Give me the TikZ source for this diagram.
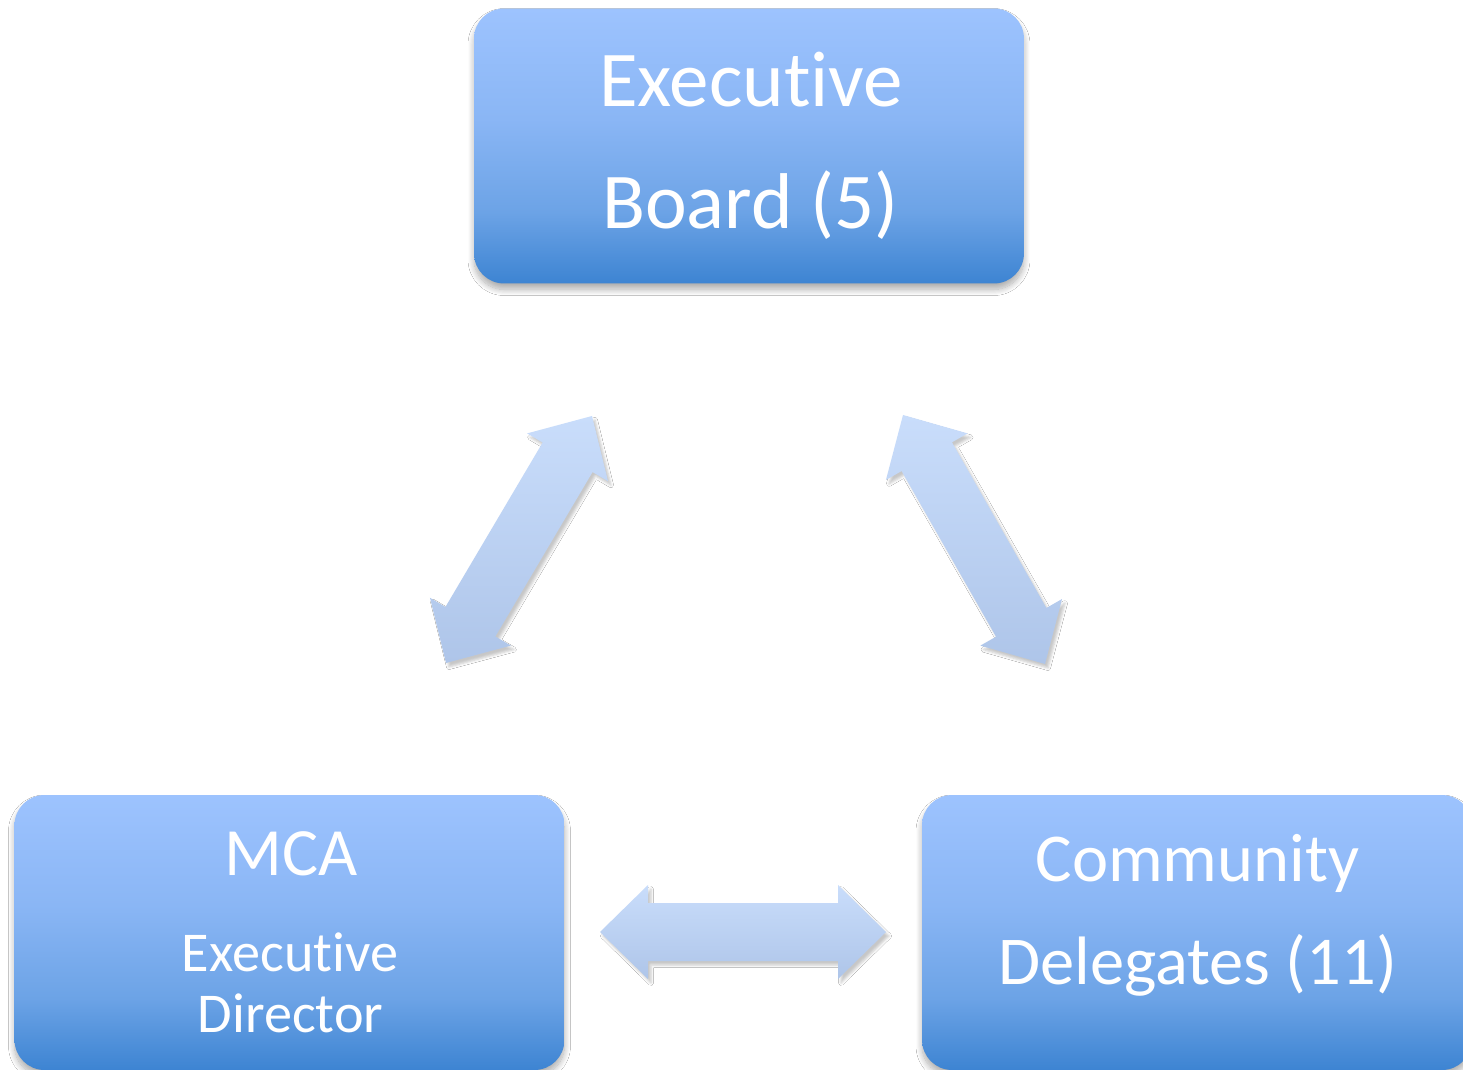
\documentclass[tikz,border=0pt]{standalone}
\usepackage{fontspec}
\setmainfont{Carlito}[Ligatures={NoCommon,NoRare,NoDiscretionary}]
\usetikzlibrary{calc,shadows.blur}
\definecolor{bxtop}{HTML}{9DC3FE}
\definecolor{bxmidb}{HTML}{8AB6F5}
\definecolor{bxmida}{HTML}{6CA3E6}
\definecolor{bxbot}{HTML}{3D84D2}
\definecolor{artop}{HTML}{C9DDFB}
\definecolor{arbot}{HTML}{AEC5E9}
\pgfdeclareverticalshading{boxgrad}{100bp}{color(0bp)=(bxbot); color(25bp)=(bxbot); color(38bp)=(bxmida); color(55bp)=(bxmidb); color(75bp)=(bxtop); color(100bp)=(bxtop)}
\tikzset{
  box/.style={rectangle, rounded corners=0.6cm, minimum width=11cm, minimum height=5.5cm,
    shading=boxgrad, draw=none,
    blur shadow={shadow xshift=0pt, shadow yshift=-0.12cm, shadow blur radius=0.12cm, shadow opacity=32, shadow blur steps=12}},
  arrowshape/.style={top color=artop, bottom color=arbot, draw=none,
    blur shadow={shadow xshift=0.06cm, shadow yshift=-0.08cm, shadow blur radius=0.05cm, shadow opacity=22}},
  txt/.style={text=white, anchor=base, inner sep=0pt},
  bigtxt/.style={txt, font=\fontsize{45}{54}\selectfont},
  midtxt/.style={txt, font=\fontsize{39}{47}\selectfont},
  mcatxt/.style={txt, font=\fontsize{38.5}{46}\selectfont},
  smalltxt/.style={txt, font=\fontsize{32}{38}\selectfont},
}
\newcommand\dblarrow[2]{%
  \coordinate (p1) at ($(#1)!0.96cm!(#2)$);
  \coordinate (p2) at ($(#2)!0.96cm!(#1)$);
  \path[arrowshape] (#1) -- ($(p1)!0.94cm!90:(#2)$) -- ($(p1)!0.58cm!90:(#2)$)
    -- ($(p2)!0.58cm!-90:(#1)$) -- ($(p2)!0.94cm!-90:(#1)$) -- (#2)
    -- ($(p2)!0.94cm!90:(#1)$) -- ($(p2)!0.58cm!90:(#1)$)
    -- ($(p1)!0.58cm!-90:(#2)$) -- ($(p1)!0.94cm!-90:(#2)$) -- cycle;
}
\begin{document}
\begin{tikzpicture}[x=0.02cm, y=-0.02cm]
\useasboundingbox (0,0) rectangle (1463,1070);
\fill[white] (0,0) rectangle (1463,1070);
% boxes
\node[box] (eb) at (749,146) {};
\node[box] (mca) at (289.5,932.5) {};
\node[box] (cd) at (1197,932.5) {};
% texts
\node[bigtxt] (eb1) at (751,107) {Executive};
\node[bigtxt] (eb2) at (750.5,229) {Board (5)};
\node[mcatxt] (mca1) at (291,875) {MCA};
\node[smalltxt] (mca2) at (290,971) {Executive};
\node[smalltxt] (mca3) at (290.5,1032) {Director};
\node[midtxt] (cd1) at (1197.5,881) {Community};
\node[midtxt] (cd2) at (1197.5,984) {Delegates (11)};
% arrow tips
\coordinate (la) at (592,416);
\coordinate (lb) at (446,663);
\coordinate (ra) at (903,415);
\coordinate (rb) at (1045,664);
\coordinate (ha) at (600,932);
\coordinate (hb) at (886,932);
\dblarrow{la}{lb}
\dblarrow{ra}{rb}
\dblarrow{ha}{hb}
\end{tikzpicture}
\end{document}
